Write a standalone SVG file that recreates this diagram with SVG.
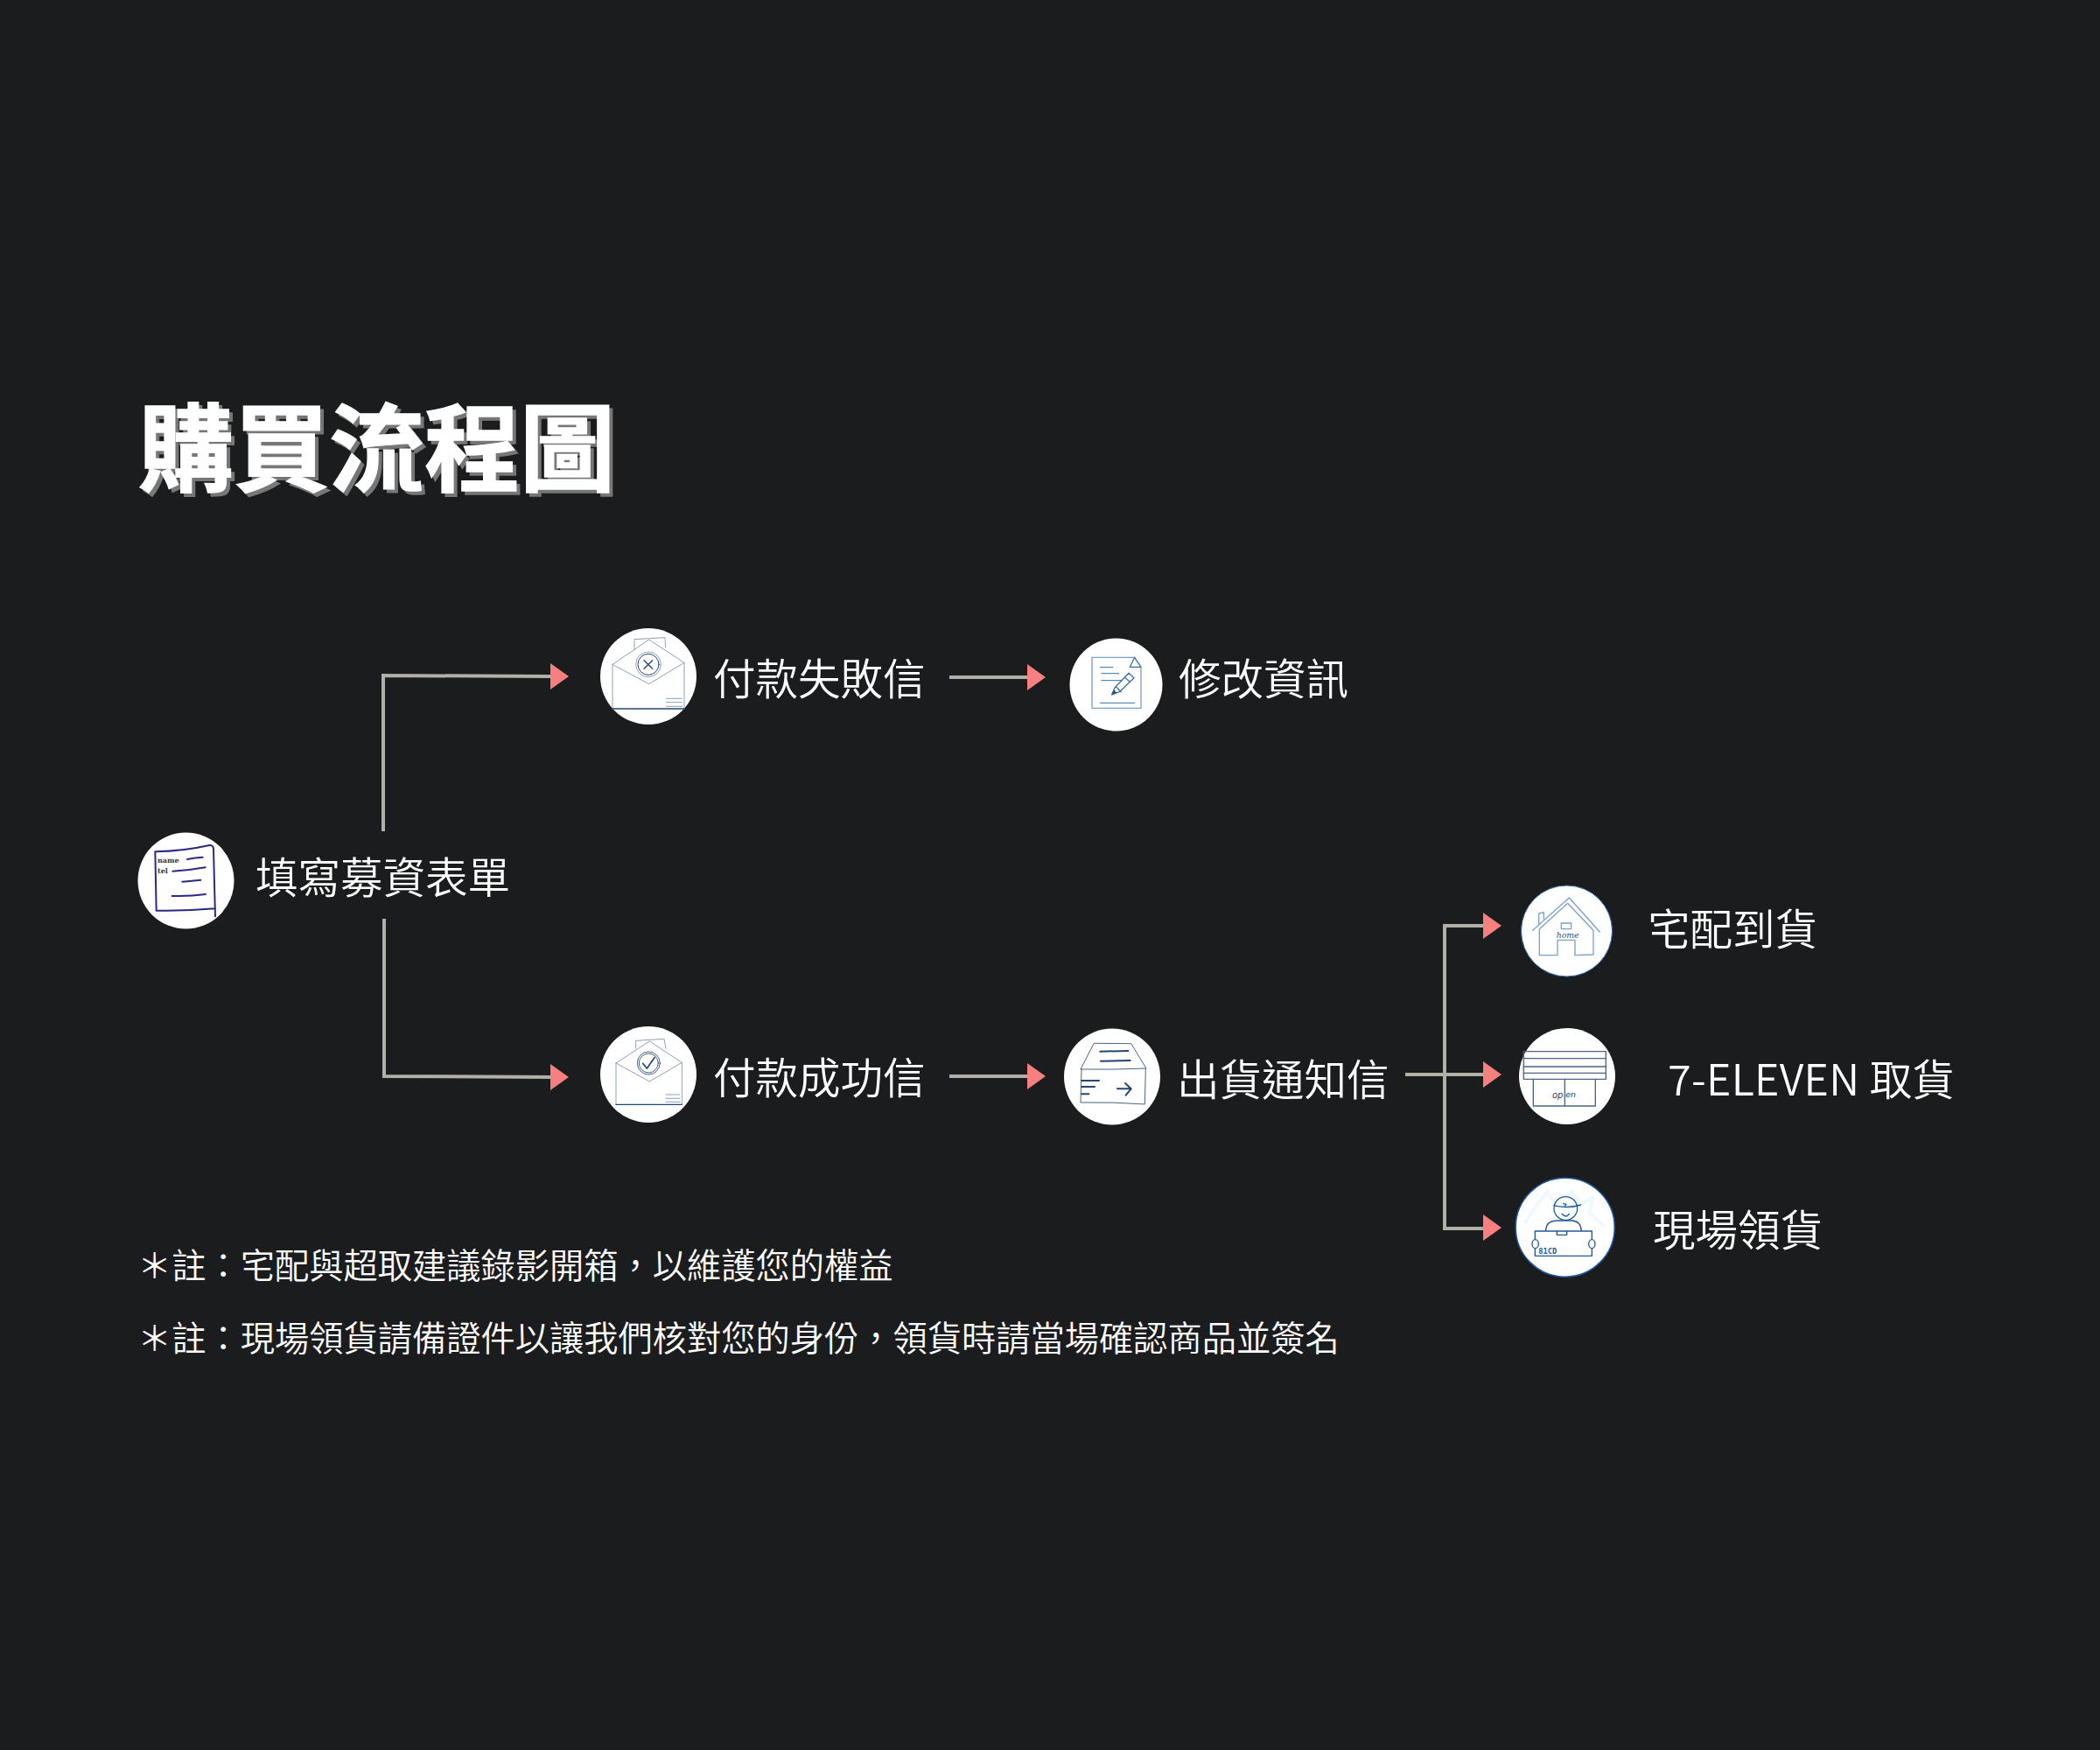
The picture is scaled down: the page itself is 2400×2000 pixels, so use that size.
<svg xmlns="http://www.w3.org/2000/svg" width="2400" height="2000" viewBox="0 0 2400 2000">
<style>
text{font-family:"Noto Sans CJK TC","Noto Sans CJK SC",sans-serif;fill:#fff}
.lb{font-size:48.5px;font-weight:350}
.nt{font-size:39.25px;font-weight:350}
.ln{fill:none;stroke:#b0b0a8;stroke-width:4}
.ah{fill:#f67f7f}
.disc{fill:#fff}
.ic{fill:none;stroke-linecap:round;stroke-linejoin:round}
.gb{stroke:#8fa0b8;stroke-width:3}
.dk{stroke:#24456f;stroke-width:4}
.bl{stroke:#7d9fcb;stroke-width:4}
.nv{stroke:#2a2a86;stroke-width:6}
.mini{font-family:"DejaVu Serif",serif;fill:#333}
</style>
<defs>
<g id="arrow"><path class="ah" d="M0-15L21 0L0 15Z"/></g>
</defs>
<rect width="2400" height="2000" fill="#1b1c1e"/>
<g id="title">
<text x="162" y="557" font-size="109" font-weight="700" stroke="#777" stroke-width="1.5" style="fill:#777">購買流程圖</text>
<text x="158" y="553" font-size="109" font-weight="700" stroke="#fff" stroke-width="1.5">購買流程圖</text>
</g>
<g id="connectors">
<path class="ln" d="M438 950V772L629 773"/>
<path class="ln" d="M439 1050V1230L629 1231"/>
<path class="ln" d="M1085 774H1175"/>
<path class="ln" d="M1085 1230H1175"/>
<path class="ln" d="M1695 1058H1651V1404H1695"/>
<path class="ln" d="M1606 1228H1695"/>
<use href="#arrow" x="629" y="773"/>
<use href="#arrow" x="629" y="1231"/>
<use href="#arrow" x="1174" y="774"/>
<use href="#arrow" x="1174" y="1230"/>
<use href="#arrow" x="1695" y="1058"/>
<use href="#arrow" x="1695" y="1228"/>
<use href="#arrow" x="1695" y="1403"/>
</g>
<g id="node-form">
<circle class="disc" cx="212.5" cy="1006.5" r="55"/>
<g transform="translate(140 930) scale(.3333)">
<path class="ic nv" d="M318 352L312 120Q310 106 298 108Q210 128 112 130L116 332Q220 334 318 325M222 156Q250 150 275 149M172 197Q230 194 284 184M205 233Q240 230 268 227M170 282Q230 284 285 276"/>
<text class="mini" x="120" y="167" font-size="24" font-weight="700">name</text>
<text class="mini" x="120" y="203" font-size="24" font-weight="700">tel</text>
</g>
<text class="lb" x="292" y="1021">填寫募資表單</text>
</g>
<g id="node-fail">
<circle class="disc" cx="741" cy="773" r="55"/>
<g transform="translate(660 700) scale(.3333)">
<path class="ic gb" d="M195 125V92L300 86L302 120M120 178L245 93L366 172V330M120 178V330M120 178L245 245L366 172M305 295H358M305 308H358M305 322H360"/>
<path class="ic dk" d="M120 330H366"/>
<circle class="ic gb" cx="243" cy="178" r="43" style="fill:#fff"/>
<circle class="ic dk" cx="243" cy="178" r="36" style="stroke-width:3"/>
<path class="ic dk" d="M228 164L257 193M257 164L228 193"/>
</g>
<text class="lb" x="815" y="794">付款失敗信</text>
</g>
<g id="node-edit">
<circle class="disc" cx="1275.5" cy="782.5" r="53"/>
<g transform="translate(1200 710) scale(.3333)">
<path class="ic bl" d="M290 124H144V298H312V157"/>
<path class="ic bl" d="M290 124L312 157H274Z" style="stroke:#3d6fa8"/>
<path class="ic bl" d="M172 280H290M172 158H216M176 179H236M176 203H244" style="stroke:#3d6fa8;stroke-width:3"/>
<path class="ic bl" d="M212 252L222 228L270 178L288 194L238 242ZM226 224L244 242M256 192L274 208" style="stroke:#3d6fa8;fill:#fff"/>
<path d="M212 252L219 235L229 245Z" fill="#234f8a"/>
</g>
<text class="lb" x="1347" y="794">修改資訊</text>
</g>
<g id="node-success">
<circle class="disc" cx="741" cy="1228" r="55"/>
<g transform="translate(660 1160) scale(.3333)">
<path class="ic gb" d="M200 115V88L297 82L303 115M132 165L247 90L358 163V307M132 165V307M132 165L247 228L358 163M303 273H350M303 286H350M303 298H352"/>
<path class="ic dk" d="M132 307H358"/>
<circle class="ic dk" cx="244" cy="165" r="39" style="fill:#fff;stroke-width:2.5"/>
<circle class="ic dk" cx="244" cy="165" r="33" style="stroke-width:2.5"/>
<path class="ic dk" d="M224 166L238 183L264 146" style="stroke-width:5"/>
</g>
<text class="lb" x="815" y="1250">付款成功信</text>
</g>
<g id="node-ship">
<circle class="disc" cx="1271" cy="1230.5" r="55"/>
<g transform="translate(1200 1160) scale(.3333)">
<path class="ic dk" style="stroke-width:3;stroke:#48638a" d="M152 97L278 98L330 183Q220 188 106 186ZM108 186L105 300Q220 298 325 306L328 183"/>
<path class="ic dk" style="stroke-width:6" d="M172 125L268 123M174 158L275 156M108 225H168M108 246H153M108 271H133M231 253H278M258 234L278 253L260 275"/>
</g>
<text class="lb" x="1345" y="1252">出貨通知信</text>
</g>
<g id="node-home">
<circle class="disc" cx="1790.5" cy="1064" r="52" stroke="#2f65a8" stroke-width="1"/>
<g transform="translate(1620 1000) scale(.3333)">
<path class="ic bl" d="M395 190L520 78L625 195M418 185L515 97L603 190M418 185V275H480V223H540V275L603 273V190M416 168V132L433 128V150"/>
<rect class="ic bl" x="493" y="165" width="34" height="20"/>
<text x="476" y="217" font-size="28" font-style="italic" style="fill:#2f5590;font-family:'DejaVu Serif',serif">home</text>
</g>
<text class="lb" x="1883" y="1080">宅配到貨</text>
</g>
<g id="node-711">
<circle class="disc" cx="1791" cy="1230" r="55"/>
<g transform="translate(1620 1160) scale(.3333)">
<rect class="ic dk" x="364" y="125" width="282" height="95" style="stroke:#4a6485"/>
<path class="ic dk" style="stroke:#4a6485" d="M364 149H646M364 177H646M364 199H646M397 220V312H610V220M505 220V312"/>
<text x="462" y="284" font-size="30" font-style="italic" style="fill:#24456f;font-family:'DejaVu Sans',sans-serif">op</text>
<text x="508" y="282" font-size="28" font-style="italic" style="fill:#24456f;font-family:'DejaVu Sans',sans-serif">en</text>
</g>
<text class="lb" x="1906" y="1252"><tspan letter-spacing=".35">7-ELEVEN </tspan>取貨</text>
</g>
<g id="node-pickup">
<circle class="disc" cx="1788.7" cy="1402.7" r="56.5" stroke="#1f5a9e" stroke-width="1.5"/>
<g transform="translate(1620 1330) scale(.3333)">
<path class="ic" stroke="#eef8fd" stroke-width="12" d="M370 200L410 140L445 95L465 130L530 95L560 140L600 115L590 170L635 210"/>
<g class="ic" stroke="#1f5a9e" stroke-width="4">
<circle cx="508" cy="153" r="40" fill="#fff"/>
<path d="M468 143Q515 155 560 141M440 230Q440 195 480 195H530Q560 197 562 230M500 137L510 139L506 144M495 172Q510 188 520 172"/>
<rect x="403" y="231" width="195" height="85" fill="#fff"/>
<path d="M478 231V244H512V231"/>
<ellipse cx="404" cy="275" rx="11" ry="15" fill="#fff"/>
<ellipse cx="598" cy="275" rx="11" ry="15" fill="#fff"/>
</g>
<text x="415" y="309" font-size="26" font-weight="700" style="fill:#1f5a9e;font-family:'DejaVu Sans Mono',monospace">81CD</text>
</g>
<text class="lb" x="1889" y="1424">現場領貨</text>
</g>
<g id="notes">
<text class="nt" x="157" y="1461">＊註：宅配與超取建議錄影開箱，以維護您的權益</text>
<text class="nt" x="157" y="1544">＊註：現場領貨請備證件以讓我們核對您的身份，領貨時請當場確認商品並簽名</text>
</g>
</svg>
